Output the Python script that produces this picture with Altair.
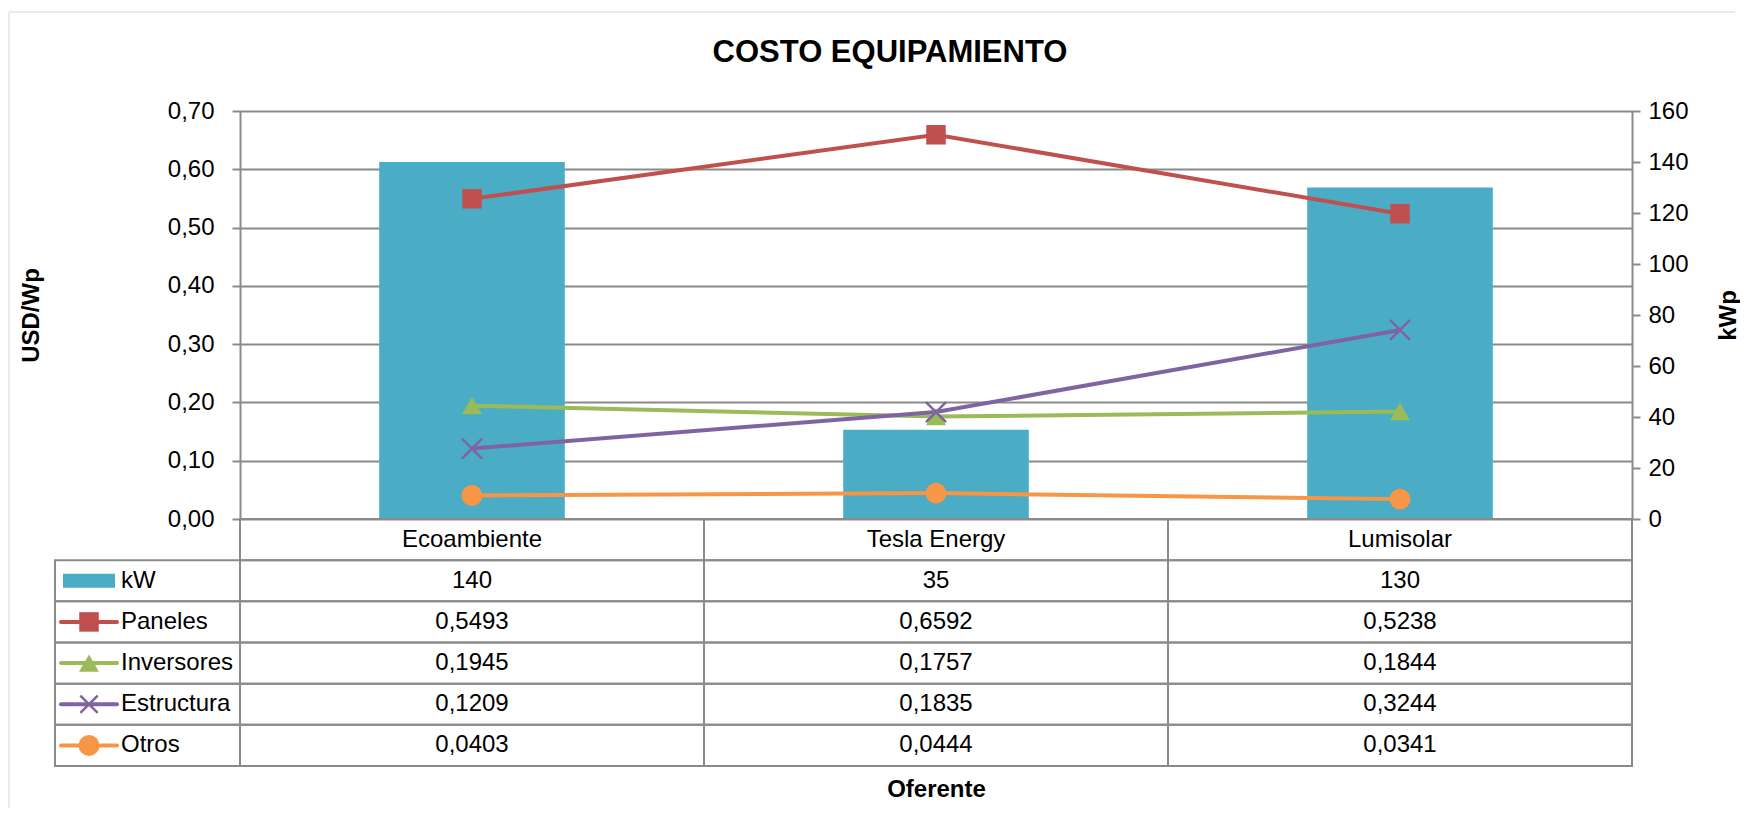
import altair as alt
import pandas as pd

# ---------------- data ----------------
cats = ["Ecoambiente", "Tesla Energy", "Lumisolar"]
kw = [140, 35, 130]
paneles = [0.5493, 0.6592, 0.5238]
inversores = [0.1945, 0.1757, 0.1844]
estructura = [0.1209, 0.1835, 0.3244]
otros = [0.0403, 0.0444, 0.0341]

series_names = ["Paneles", "Inversores", "Estructura", "Otros"]
series_values = [paneles, inversores, estructura, otros]
series_colors = ["#C0504D", "#9BBB59", "#8064A2", "#F79646"]
X_PATH = "M-1,-1L1,1M-1,1L1,-1"
series_shapes = ["square", "triangle-up", X_PATH, "circle"]
bar_name = "kW"
bar_color = "#4BACC6"
left_ticks = [0.0, 0.1, 0.2, 0.3, 0.4, 0.5, 0.6, 0.7]
right_ticks = [0, 20, 40, 60, 80, 100, 120, 140, 160]
chart_title = "COSTO EQUIPAMIENTO"
y_left_title = "USD/Wp"
y_right_title = "kWp"
x_title = "Oferente"

# ---------------- style ----------------
FONT = "Liberation Sans"
FS = 24
W, H = 1392, 408
GRID = "#8a8a8a"
BORDER = "#EDEADF"
table_rows = ["_cat", bar_name] + series_names
ROW_RANGE = [H, 655]

bars_df = pd.DataFrame({"Oferente": cats, "kW": kw})
lines_df = pd.DataFrame(
    [{"Oferente": c, "idx": i, "serie": s, "valor": v}
     for s, vals in zip(series_names, series_values)
     for i, (c, v) in enumerate(zip(cats, vals))]
)
table_df = pd.DataFrame(
    [{"row": bar_name, "Oferente": c, "v": v} for c, v in zip(cats, kw)]
    + [{"row": s, "Oferente": c, "v": v}
       for s, vals in zip(series_names, series_values) for c, v in zip(cats, vals)]
)
cells_df = pd.DataFrame([{"row": r, "Oferente": c} for r in table_rows for c in cats])
catrow_df = pd.DataFrame({"row": ["_cat"] * len(cats), "Oferente": cats})
legend_df = pd.DataFrame({"row": [bar_name] + series_names,
                          "serie": [bar_name] + series_names})
title_df = pd.DataFrame({"t": [chart_title]})
deco_df = pd.DataFrame({"d": [0]})

x_main_scale = alt.Scale(type="band", domain=cats, paddingInner=0.6, paddingOuter=0.3)
x_tab_scale = alt.Scale(type="band", domain=cats, paddingInner=0, paddingOuter=0)
y_left_scale = alt.Scale(domain=[0, 0.7], nice=False, zero=True)
row_scale = alt.Scale(type="band", domain=table_rows, range=ROW_RANGE,
                      paddingInner=0, paddingOuter=0)
color_scale = alt.Scale(domain=series_names, range=series_colors)

# bars (secondary axis on the right)
bars = alt.Chart(bars_df).mark_bar(color=bar_color).encode(
    x=alt.X("Oferente:N", scale=x_main_scale,
            axis=alt.Axis(labels=False, ticks=False, domain=False, grid=False,
                          title=x_title, titleFont=FONT, titleFontSize=FS,
                          titleFontWeight="bold", titleColor="black",
                          titleY=270, titleBaseline="middle")),
    y=alt.Y("kW:Q", scale=alt.Scale(domain=[0, 160], nice=False),
            axis=alt.Axis(orient="right", values=right_ticks, format="d",
                          tickSize=8, tickColor=GRID, tickWidth=2,
                          domainColor=GRID, domainWidth=2, grid=False,
                          labelFont=FONT, labelFontSize=FS, labelColor="black",
                          labelPadding=8, title=y_right_title, titleFont=FONT,
                          titleFontSize=FS, titleFontWeight="bold", titleColor="black",
                          titleX=96, titleY=H / 2, titleAngle=-90,
                          titleAlign="center", titleBaseline="middle")),
)

lines = alt.Chart(lines_df).mark_line(strokeWidth=4).encode(
    x=alt.X("Oferente:N", scale=x_main_scale, axis=None),
    y=alt.Y("valor:Q", scale=y_left_scale,
            axis=alt.Axis(orient="left", values=left_ticks,
                          labelExpr="replace(format(datum.value, '.2f'), '.', ',')",
                          tickSize=8, tickColor=GRID, tickWidth=2,
                          domainColor=GRID, domainWidth=2,
                          grid=True, gridColor=GRID, gridWidth=2,
                          labelFont=FONT, labelFontSize=FS, labelColor="black",
                          labelPadding=18, title=y_left_title, titleFont=FONT,
                          titleFontSize=FS, titleFontWeight="bold", titleColor="black",
                          titleX=-209, titleY=H / 2, titleAngle=-90,
                          titleAlign="center", titleBaseline="middle")),
    color=alt.Color("serie:N", scale=color_scale, legend=None),
    order=alt.Order("idx:Q"),
)

points = alt.Chart(lines_df).transform_filter(
    alt.datum.serie != "Estructura"
).mark_point(filled=True, opacity=1).encode(
    x=alt.X("Oferente:N", scale=x_main_scale, axis=None),
    y=alt.Y("valor:Q", scale=y_left_scale, axis=None),
    color=alt.Color("serie:N", scale=color_scale, legend=None),
    shape=alt.Shape("serie:N", scale=alt.Scale(domain=series_names, range=series_shapes), legend=None),
    size=alt.Size("serie:N", scale=alt.Scale(domain=series_names, range=[380, 440, 400, 320]), legend=None),
)

xpoints = alt.Chart(lines_df).transform_filter(
    alt.datum.serie == "Estructura"
).mark_point(filled=False, shape=X_PATH, size=400, strokeWidth=2.5, opacity=1).encode(
    x=alt.X("Oferente:N", scale=x_main_scale, axis=None),
    y=alt.Y("valor:Q", scale=y_left_scale, axis=None),
    color=alt.Color("serie:N", scale=color_scale, legend=None),
)

# data table
cells = alt.Chart(cells_df).mark_rect(fillOpacity=0, stroke=GRID, strokeWidth=2).encode(
    x=alt.X("Oferente:N", scale=x_tab_scale, axis=None),
    y=alt.Y("row:N", scale=row_scale, axis=None),
)
legend_cells = alt.Chart(legend_df).mark_rect(fillOpacity=0, stroke=GRID, strokeWidth=2).encode(
    x=alt.value(-185), x2=alt.value(0),
    y=alt.Y("row:N", scale=row_scale, axis=None),
)
cat_text = alt.Chart(catrow_df).mark_text(font=FONT, fontSize=FS, color="black",
                                          baseline="middle").encode(
    x=alt.X("Oferente:N", scale=x_tab_scale, axis=None),
    y=alt.Y("row:N", scale=row_scale, axis=None),
    text="Oferente:N",
)
val_text = alt.Chart(table_df).transform_calculate(
    label="datum.row === 'kW' ? format(datum.v, 'd') : replace(format(datum.v, '.4f'), '.', ',')"
).mark_text(font=FONT, fontSize=FS, color="black", baseline="middle").encode(
    x=alt.X("Oferente:N", scale=x_tab_scale, axis=None),
    y=alt.Y("row:N", scale=row_scale, axis=None),
    text="label:N",
)
leg_text = alt.Chart(legend_df).mark_text(font=FONT, fontSize=FS, color="black",
                                          align="left", baseline="middle").encode(
    x=alt.value(-119),
    y=alt.Y("row:N", scale=row_scale, axis=None),
    text="serie:N",
)
leg_swatch = alt.Chart(legend_df).transform_filter(
    alt.datum.serie == bar_name
).mark_rule(color=bar_color, strokeWidth=14, strokeCap="butt").encode(
    x=alt.value(-177), x2=alt.value(-125),
    y=alt.Y("row:N", scale=row_scale, axis=None),
)
leg_lines = alt.Chart(legend_df).transform_filter(
    alt.datum.serie != bar_name
).mark_rule(strokeWidth=4, strokeCap="round").encode(
    x=alt.value(-179), x2=alt.value(-123),
    y=alt.Y("row:N", scale=row_scale, axis=None),
    color=alt.Color("serie:N", scale=color_scale, legend=None),
)
leg_pts = alt.Chart(legend_df).transform_filter(
    (alt.datum.serie != bar_name) & (alt.datum.serie != "Estructura")
).mark_point(filled=True, opacity=1).encode(
    x=alt.value(-151),
    y=alt.Y("row:N", scale=row_scale, axis=None),
    color=alt.Color("serie:N", scale=color_scale, legend=None),
    shape=alt.Shape("serie:N", scale=alt.Scale(domain=series_names, range=series_shapes), legend=None),
    size=alt.Size("serie:N", scale=alt.Scale(domain=series_names, range=[300, 360, 300, 280]), legend=None),
)
leg_x = alt.Chart(legend_df).transform_filter(
    alt.datum.serie == "Estructura"
).mark_point(filled=False, shape=X_PATH, size=300, strokeWidth=2.5, opacity=1).encode(
    x=alt.value(-151),
    y=alt.Y("row:N", scale=row_scale, axis=None),
    color=alt.Color("serie:N", scale=color_scale, legend=None),
)

# title and chart-area border
title_mark = alt.Chart(title_df).mark_text(font=FONT, fontSize=31, fontWeight="bold",
                                           color="black", align="center",
                                           baseline="middle").encode(
    x=alt.value(650), y=alt.value(-58), text="t:N",
)
border_top = alt.Chart(deco_df).mark_rule(color=BORDER, strokeWidth=2).encode(
    x=alt.value(-231), x2=alt.value(1495), y=alt.value(-99),
)
border_left = alt.Chart(deco_df).mark_rule(color=BORDER, strokeWidth=2).encode(
    x=alt.value(-231), y=alt.value(-99), y2=alt.value(697),
)

chart = alt.layer(
    border_top, border_left, title_mark,
    bars, lines, points, xpoints,
    cells, legend_cells, cat_text, val_text,
    leg_swatch, leg_lines, leg_pts, leg_x, leg_text,
).resolve_scale(
    x="independent", y="independent"
).properties(
    width=W, height=H,
    padding={"left": 0, "top": 3, "right": 0, "bottom": 0},
).configure_view(strokeWidth=0).configure(font=FONT)

chart.save("out.html", embed_options={"renderer": "svg", "actions": False})
